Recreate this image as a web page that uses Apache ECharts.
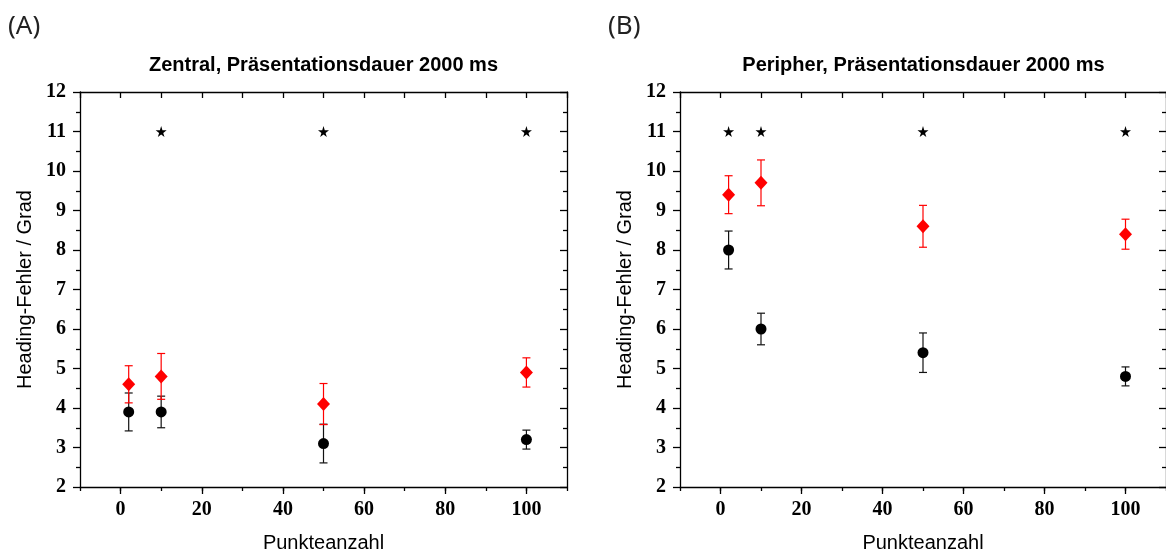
<!DOCTYPE html>
<html>
<head>
<meta charset="utf-8">
<script src="https://cdn.jsdelivr.net/npm/echarts@6/dist/echarts.min.js"></script>
<style>
html,body{margin:0;padding:0;background:#fff;}
#chart{width:1166px;height:558px;}
</style>
</head>
<body>
<div id="chart"></div>
<script>
// ---- data ----
const xValues = [2, 10, 50, 100];
const xTickLabels = [0, 20, 40, 60, 80, 100];
const yTickLabels = [2, 3, 4, 5, 6, 7, 8, 9, 10, 11, 12];

const zentralBlack = [3.9, 3.9, 3.1, 3.2];
const zentralBlackErr = [0.48, 0.40, 0.49, 0.24];
const zentralRed = [4.6, 4.8, 4.1, 4.9];
const zentralRedErr = [0.47, 0.58, 0.52, 0.37];
const zentralStarX = [10, 50, 100];

const peripherBlack = [8.0, 6.0, 5.4, 4.8];
const peripherBlackErr = [0.48, 0.40, 0.50, 0.24];
const peripherRed = [9.4, 9.7, 8.6, 8.4];
const peripherRedErr = [0.48, 0.58, 0.53, 0.38];
const peripherStarX = [2, 10, 50, 100];
const starLevel = 11;

const panelLabels = ['(A)', '(B)'];
const panelTitles = ['Zentral, Präsentationsdauer 2000 ms', 'Peripher, Präsentationsdauer 2000 ms'];
const xName = 'Punkteanzahl';
const yName = 'Heading-Fehler / Grad';

// ---- layout ----
const grids = [
  {left: 80, top: 92, width: 487, height: 397},
  {left: 680, top: 92, width: 487, height: 397}
];
const LS = {color: '#000', width: 1.3};
const tickFont = {fontFamily: 'Liberation Serif', fontWeight: 'bold', fontSize: 20, color: '#000'};
const nameFont = {fontFamily: 'Liberation Sans', fontSize: 20, color: '#000'};

const xAxes = [], yAxes = [];
grids.forEach((g, gi) => {
  xAxes.push({
    gridIndex: gi, type: 'value', min: -10, max: 110, position: 'bottom',
    axisLine: {onZero: false, lineStyle: LS},
    axisTick: {customValues: xTickLabels, length: 7, lineStyle: LS},
    axisLabel: Object.assign({customValues: xTickLabels, margin: 13}, tickFont),
    splitLine: {show: false},
    name: xName, nameLocation: 'middle', nameGap: 46, nameTextStyle: nameFont
  });
  xAxes.push({
    gridIndex: gi, type: 'value', min: -10, max: 110, interval: 10, position: 'bottom',
    axisLine: {show: false, onZero: false},
    axisTick: {length: 4, lineStyle: LS},
    axisLabel: {show: false}, splitLine: {show: false}
  });
  xAxes.push({
    gridIndex: gi, type: 'value', min: -10, max: 110, interval: 10, position: 'top',
    axisLine: {onZero: false, lineStyle: LS},
    axisTick: {inside: true, length: 6, lineStyle: LS},
    axisLabel: {show: false}, splitLine: {show: false}
  });
  yAxes.push({
    gridIndex: gi, type: 'value', min: 2, max: 12, interval: 1, position: 'left',
    axisLine: {onZero: false, lineStyle: LS},
    axisTick: {length: 7, lineStyle: LS},
    minorTick: {show: true, splitNumber: 2, length: 4, lineStyle: LS},
    axisLabel: Object.assign({margin: 14}, tickFont),
    splitLine: {show: false},
    name: yName, nameLocation: 'middle', nameGap: 45, nameTextStyle: nameFont
  });
  yAxes.push({
    gridIndex: gi, type: 'value', min: 2, max: 12, interval: 1, position: 'right',
    axisLine: {onZero: false, lineStyle: LS},
    axisTick: {inside: true, length: 7, lineStyle: LS},
    minorTick: {show: true, splitNumber: 2, length: 4, lineStyle: LS},
    axisLabel: {show: false}, splitLine: {show: false}
  });
});

function errData(means, errs) {
  return xValues.map((x, i) => [x, means[i] - errs[i], means[i] + errs[i]]);
}
function errSeries(gi, means, errs, color) {
  return {
    type: 'custom', xAxisIndex: gi * 3, yAxisIndex: gi * 2,
    data: errData(means, errs),
    encode: {x: 0, y: [1, 2]},
    renderItem: function (params, api) {
      const x = api.value(0), lo = api.value(1), hi = api.value(2);
      const pH = api.coord([x, hi]), pL = api.coord([x, lo]);
      const hw = 4;
      const st = {stroke: color, lineWidth: 1.2};
      return {type: 'group', children: [
        {type: 'line', shape: {x1: pH[0], y1: pH[1], x2: pL[0], y2: pL[1]}, style: st},
        {type: 'line', shape: {x1: pH[0] - hw, y1: pH[1], x2: pH[0] + hw, y2: pH[1]}, style: st},
        {type: 'line', shape: {x1: pL[0] - hw, y1: pL[1], x2: pL[0] + hw, y2: pL[1]}, style: st}
      ]};
    },
    z: 2
  };
}
const starPath = 'path://M50,0 L61,35 L98,35 L68,57 L79,91 L50,70 L21,91 L32,57 L2,35 L39,35 Z';
function pts(vals) { return xValues.map((x, i) => [x, vals[i]]); }

const series = [];
[[zentralBlack, zentralBlackErr, zentralRed, zentralRedErr, zentralStarX],
 [peripherBlack, peripherBlackErr, peripherRed, peripherRedErr, peripherStarX]].forEach((d, gi) => {
  series.push(errSeries(gi, d[0], d[1], '#111'));
  series.push({type: 'scatter', xAxisIndex: gi * 3, yAxisIndex: gi * 2, data: pts(d[0]),
    symbol: 'circle', symbolSize: 11, itemStyle: {color: '#000', opacity: 1}, z: 3});
  series.push(errSeries(gi, d[2], d[3], '#ff0000'));
  series.push({type: 'scatter', xAxisIndex: gi * 3, yAxisIndex: gi * 2, data: pts(d[2]),
    symbol: 'diamond', symbolSize: [13, 14], itemStyle: {color: '#ff0000', opacity: 1}, z: 4});
  series.push({type: 'scatter', xAxisIndex: gi * 3, yAxisIndex: gi * 2,
    data: d[4].map(x => [x, starLevel]),
    symbol: starPath, symbolSize: 11, itemStyle: {color: '#000', opacity: 1}, z: 4});
});

const titles = [];
grids.forEach((g, gi) => {
  titles.push({text: panelLabels[gi], left: gi === 0 ? 8 : 608, top: 14, padding: 0,
    textStyle: {fontFamily: 'Noto Sans', fontWeight: 'normal', fontSize: 26, color: '#222'}});
  titles.push({text: panelTitles[gi], left: g.left + g.width / 2, textAlign: 'center', top: 55, padding: 0,
    textStyle: {fontFamily: 'Liberation Sans', fontWeight: 'bold', fontSize: 20, color: '#000'}});
});

const chart = echarts.init(document.getElementById('chart'), null, {renderer: 'canvas'});
chart.setOption({
  backgroundColor: '#fff',
  animation: false,
  title: titles,
  grid: grids,
  xAxis: xAxes,
  yAxis: yAxes,
  series: series
});
</script>
</body>
</html>
